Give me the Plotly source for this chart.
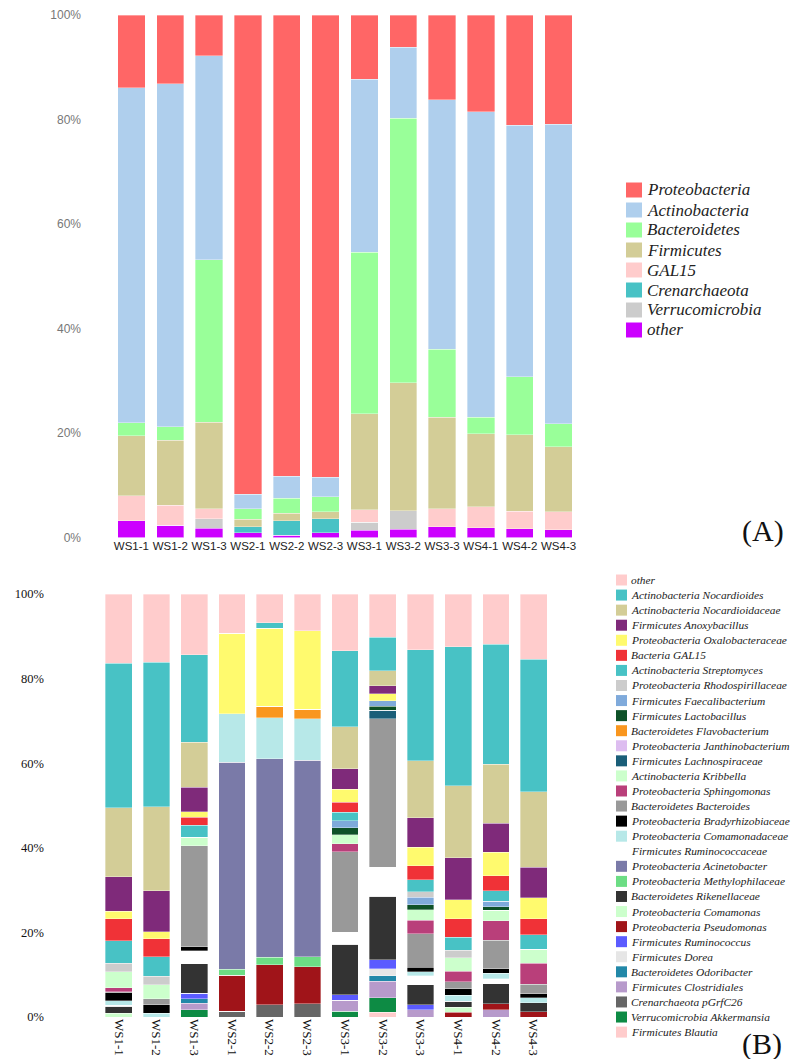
import plotly.graph_objects as go

W, H = 808, 1059          # browser window
OFF = 8                   # default page body margin
FW, FH = W - OFF, H - OFF  # figure size that fits in the window

samples = ["WS1-1", "WS1-2", "WS1-3", "WS2-1", "WS2-2", "WS2-3",
           "WS3-1", "WS3-2", "WS3-3", "WS4-1", "WS4-2", "WS4-3"]
y_ticks = [0, 20, 40, 60, 80, 100]
y_ticktext = ["0%", "20%", "40%", "60%", "80%", "100%"]

# ---------------- Panel A (phylum level, %) ----------------
phyla = ["Proteobacteria", "Actinobacteria", "Bacteroidetes", "Firmicutes",
         "GAL15", "Crenarchaeota", "Verrucomicrobia", "other"]
phyla_colors = ["#FF6666", "#AFCFED", "#99FF99", "#D3CD97",
                "#FFCCCC", "#48C2C5", "#CCCCCC", "#CC00FF"]
a_proteobacteria = [13.9, 13.2, 7.8, 91.7, 88.3, 88.5, 12.3, 6.2, 16.2, 18.5, 21.1, 20.9]
a_actinobacteria = [64.1, 65.6, 39.0, 2.8, 4.2, 3.7, 33.1, 13.6, 47.8, 58.5, 48.1, 57.3]
a_bacteroidetes = [2.5, 2.6, 31.1, 2.0, 2.9, 2.9, 30.9, 50.6, 13.0, 3.1, 11.1, 4.4]
a_firmicutes = [11.5, 12.4, 16.6, 1.4, 1.4, 1.3, 18.4, 24.5, 17.5, 14.0, 14.7, 12.5]
a_gal15 = [4.8, 3.9, 1.9, 0, 0, 0, 2.4, 0, 3.4, 4.0, 3.3, 3.4]
a_crenarchaeota = [0, 0, 0, 1.2, 2.8, 2.7, 0, 0, 0, 0, 0, 0]
a_verrucomicrobia = [0, 0, 1.8, 0, 0, 0, 1.5, 3.5, 0, 0, 0, 0]
a_other = [3.2, 2.3, 1.8, 0.9, 0.4, 0.9, 1.4, 1.6, 2.1, 1.9, 1.7, 1.5]
phyla_values = [a_proteobacteria, a_actinobacteria, a_bacteroidetes, a_firmicutes,
                a_gal15, a_crenarchaeota, a_verrucomicrobia, a_other]

# ---------------- Panel B (genus level, %) ----------------
genera = ["other", "Actinobacteria Nocardioides", "Actinobacteria Nocardioidaceae",
          "Firmicutes Anoxybacillus", "Proteobacteria Oxalobacteraceae", "Bacteria GAL15",
          "Actinobacteria Streptomyces", "Proteobacteria Rhodospirillaceae",
          "Firmicutes Faecalibacterium", "Firmicutes Lactobacillus",
          "Bacteroidetes Flavobacterium", "Proteobacteria Janthinobacterium",
          "Firmicutes Lachnospiraceae", "Actinobacteria Kribbella",
          "Proteobacteria Sphingomonas", "Bacteroidetes Bacteroides",
          "Proteobacteria Bradyrhizobiaceae", "Proteobacteria Comamonadaceae",
          "Firmicutes Ruminococcaceae", "Proteobacteria Acinetobacter",
          "Proteobacteria Methylophilaceae", "Bacteroidetes Rikenellaceae",
          "Proteobacteria Comamonas", "Proteobacteria Pseudomonas",
          "Firmicutes Ruminococcus", "Firmicutes Dorea", "Bacteroidetes Odoribacter",
          "Firmicutes Clostridiales", "Crenarchaeota pGrfC26",
          "Verrucomicrobia Akkermansia", "Firmicutes Blautia"]
genera_colors = ["#FFCCCC", "#48C2C5", "#D3CD97", "#7F2A7A", "#FFFA6E", "#F03237",
                 "#48C2C5", "#CCCCCC", "#7FAADB", "#0E5128", "#F9961E", "#DDBDF0",
                 "#1A5E78", "#CCFFCC", "#B93F7A", "#999999", "#000000", "#B7E8E8",
                 "#FFFFFF", "#7A7AA8", "#6CDD84", "#333333", "#CCFFCC", "#A01419",
                 "#5B5BFF", "#E6E6E6", "#2288A8", "#B79ACB", "#666666", "#0D8B44",
                 "#FFCCCC"]

b_other = [16.4, 16.2, 14.4, 9.3, 6.8, 8.7, 13.4, 10.2, 13.2, 12.5, 11.9, 15.4]
b_nocardioides = [34.2, 34.2, 20.6, 0, 1.3, 0, 18.0, 8.0, 26.2, 32.8, 28.4, 31.4]
b_nocardioidaceae = [16.4, 19.8, 10.6, 0, 0, 0, 9.9, 3.5, 13.5, 17.0, 13.9, 17.8]
b_anoxybacillus = [8.1, 9.7, 5.8, 0, 0, 0, 4.8, 1.9, 7.0, 10.0, 6.9, 7.2]
b_oxalobacteraceae = [1.8, 1.7, 1.3, 19.0, 18.4, 18.5, 3.1, 1.6, 4.3, 4.5, 5.5, 5.0]
b_gal15 = [5.2, 4.2, 1.9, 0, 0, 0, 2.4, 0, 3.4, 4.3, 3.5, 3.7]
b_streptomyces = [5.4, 4.6, 2.9, 0, 0, 0, 2.0, 0, 2.8, 3.1, 2.5, 3.5]
b_rhodospirillaceae = [2.0, 2.1, 0, 0, 0, 0, 0, 0, 1.3, 1.8, 0, 0]
b_faecalibacterium = [0, 0, 0, 0, 0, 0, 1.7, 1.3, 1.8, 0, 1.3, 0]
b_lactobacillus = [0, 0, 0, 0, 0, 0, 1.6, 1.0, 1.1, 0, 0.9, 0]
b_flavobacterium = [0, 0, 0, 0, 2.7, 2.3, 0, 0, 0, 0, 0, 0]
b_janthinobacterium = [0, 0, 0, 0, 0, 0, 0, 0, 0, 0, 0, 0]
b_lachnospiraceae = [0, 0, 0, 0, 0, 0, 0, 2.0, 0, 0, 0, 0]
b_kribbella = [3.8, 3.3, 1.9, 0, 0, 0, 2.2, 0, 2.5, 3.2, 2.4, 3.3]
b_sphingomonas = [0.9, 0, 0, 0, 0, 0, 1.8, 0, 3.2, 2.5, 4.6, 4.9]
b_bacteroides = [0.3, 1.4, 23.9, 0, 0, 0, 19.1, 35.1, 7.9, 1.6, 6.8, 2.3]
b_bradyrhizobiaceae = [1.9, 2.0, 0.9, 0, 0, 0, 0, 0, 1.1, 1.5, 1.1, 1.0]
b_comamonadaceae = [1.0, 0.9, 0, 11.4, 9.7, 9.8, 0, 0, 1.0, 1.5, 1.2, 1.1]
b_ruminococcaceae = [0.3, 0, 3.1, 0, 0, 0, 2.8, 6.9, 2.1, 0, 1.2, 0]
b_acinetobacter = [0, 0, 0, 48.9, 47.0, 46.5, 0, 0, 0, 0, 0, 0]
b_methylophilaceae = [0, 0, 0, 1.4, 1.7, 2.3, 0, 0, 0, 0, 0, 0]
b_rikenellaceae = [1.6, 0, 7.0, 0, 0, 0, 11.9, 15.0, 4.7, 1.4, 4.8, 2.1]
b_comamonas = [0.9, 0, 0, 0, 0, 0, 0, 0, 0, 1.2, 0, 0]
b_pseudomonas = [0, 0, 0, 8.5, 9.5, 8.8, 0, 0, 0, 1.1, 1.4, 1.3]
b_ruminococcus = [0, 0, 1.3, 0, 0, 0, 1.3, 2.1, 1.2, 0, 0, 0]
b_dorea = [0, 0, 0, 0, 0, 0, 0, 1.7, 0, 0, 0, 0]
b_odoribacter = [0, 0, 1.0, 0, 0, 0, 0, 1.3, 0, 0, 0, 0]
b_clostridiales = [0, 0, 1.6, 0, 0, 0, 2.6, 3.9, 1.7, 0, 1.7, 0]
b_pgrfc26 = [0, 0, 0, 1.4, 2.9, 3.1, 0, 0, 0, 0, 0, 0]
b_akkermansia = [0, 0, 1.7, 0, 0, 0, 1.4, 3.4, 0, 0, 0, 0]
b_blautia = [0, 0, 0, 0, 0, 0, 0, 1.1, 0, 0, 0, 0]
genera_values = [b_other, b_nocardioides, b_nocardioidaceae, b_anoxybacillus,
                 b_oxalobacteraceae, b_gal15, b_streptomyces, b_rhodospirillaceae,
                 b_faecalibacterium, b_lactobacillus, b_flavobacterium,
                 b_janthinobacterium, b_lachnospiraceae, b_kribbella, b_sphingomonas,
                 b_bacteroides, b_bradyrhizobiaceae, b_comamonadaceae,
                 b_ruminococcaceae, b_acinetobacter, b_methylophilaceae,
                 b_rikenellaceae, b_comamonas, b_pseudomonas, b_ruminococcus,
                 b_dorea, b_odoribacter, b_clostridiales, b_pgrfc26,
                 b_akkermansia, b_blautia]


def px(x):
    return (x - OFF) / FW


def py(y):
    return 1 - (y - OFF) / FH


fig = go.Figure()

# stack bottom-up: last legend entry at the bottom
for name, col, vals in reversed(list(zip(phyla, phyla_colors, phyla_values))):
    fig.add_trace(go.Bar(x=samples, y=vals, name=name, marker_color=col,
                         marker_line=dict(color="rgba(255,255,255,0.7)", width=0.5),
                         width=0.7, xaxis="x", yaxis="y", showlegend=False))

for name, col, vals in reversed(list(zip(genera, genera_colors, genera_values))):
    fig.add_trace(go.Bar(x=samples, y=vals, name=name, marker_color=col,
                         marker_line=dict(color="rgba(255,255,255,0.7)", width=0.5),
                         width=0.71, xaxis="x2", yaxis="y2", showlegend=False))

shapes = []
annotations = []

# legend A
for i, (name, col) in enumerate(zip(phyla, phyla_colors)):
    yc = 190 + i * 20
    shapes.append(dict(type="rect", xref="paper", yref="paper",
                       x0=px(626), x1=px(642), y0=py(yc - 7.5), y1=py(yc + 7.5),
                       fillcolor=col, line=dict(width=0)))
    annotations.append(dict(xref="paper", yref="paper", x=px(645), y=py(yc),
                            xanchor="left", yanchor="middle", showarrow=False,
                            text="<i>" + name + "</i>",
                            font=dict(family="Liberation Serif", size=17, color="#222")))

# legend B
for i, (name, col) in enumerate(zip(genera, genera_colors)):
    yc = 580 + i * 15.07
    shapes.append(dict(type="rect", xref="paper", yref="paper",
                       x0=px(616), x1=px(627), y0=py(yc - 5.5), y1=py(yc + 5.5),
                       fillcolor=col, line=dict(width=0)))
    annotations.append(dict(xref="paper", yref="paper", x=px(629), y=py(yc),
                            xanchor="left", yanchor="middle", showarrow=False,
                            text="<i>" + name + "</i>",
                            font=dict(family="Liberation Serif", size=11.4, color="#222")))

annotations.append(dict(xref="paper", yref="paper", x=px(763), y=py(531),
                        xanchor="center", yanchor="middle", showarrow=False, text="(A)",
                        font=dict(family="Liberation Serif", size=30, color="#111")))
annotations.append(dict(xref="paper", yref="paper", x=px(762), y=py(1044),
                        xanchor="center", yanchor="middle", showarrow=False, text="(B)",
                        font=dict(family="Liberation Serif", size=30, color="#111")))

fig.update_layout(
    width=FW, height=FH,
    margin=dict(l=0, r=0, t=0, b=0, autoexpand=False),
    paper_bgcolor="white", plot_bgcolor="white",
    barmode="stack", barnorm="percent",
    showlegend=False,
    shapes=shapes, annotations=annotations,
    xaxis=dict(domain=[px(112), px(578)], anchor="y", showgrid=False, zeroline=False,
               showline=False, ticks="", tickangle=0, automargin=False,
               tickfont=dict(family="Liberation Sans", size=11.5, color="#222")),
    yaxis=dict(domain=[py(537.5), py(15)], anchor="x", range=[0, 100],
               tickmode="array", tickvals=y_ticks, ticktext=y_ticktext,
               showgrid=False, zeroline=False, automargin=False,
               showline=False, ticks="", ticklabelstandoff=30,
               tickfont=dict(family="Liberation Sans", size=12, color="#777")),
    xaxis2=dict(domain=[px(100), px(552.5)], anchor="y2", showgrid=False, zeroline=False,
                showline=False, ticks="", tickangle=90, ticklabelstandoff=1,
                automargin=False,
                tickfont=dict(family="Liberation Serif", size=13, color="#111")),
    yaxis2=dict(domain=[py(1017), py(594)], anchor="x2", range=[0, 100],
                tickmode="array", tickvals=y_ticks, ticktext=y_ticktext,
                showgrid=False, zeroline=False, automargin=False,
                showline=False, ticks="", ticklabelstandoff=55,
                tickfont=dict(family="Liberation Serif", size=12.5, color="#111")),
)

fig.write_html("out.html")
